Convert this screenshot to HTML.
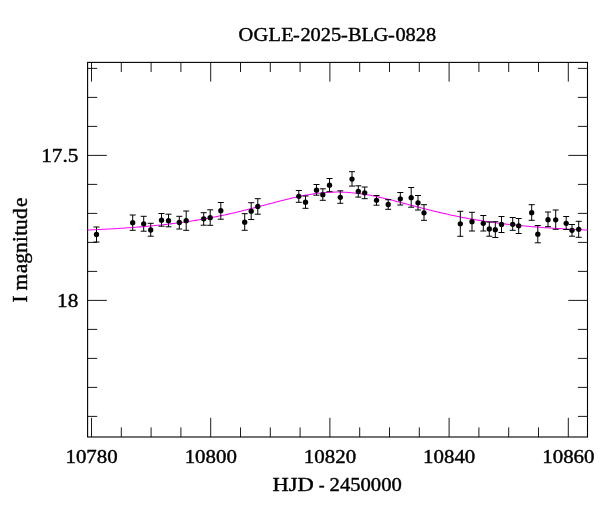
<!DOCTYPE html>
<html><head><meta charset="utf-8"><title>OGLE-2025-BLG-0828</title>
<style>html,body{margin:0;padding:0;background:#fff}svg{display:block}</style></head>
<body>
<svg width="600" height="512" viewBox="0 0 600 512">
<rect width="600" height="512" fill="#fff"/>
<path d="M91.50,437.0 v-19.2 M91.50,62.4 v19.2 M121.30,437.0 v-9.6 M121.30,62.4 v9.6 M151.10,437.0 v-9.6 M151.10,62.4 v9.6 M180.90,437.0 v-9.6 M180.90,62.4 v9.6 M210.70,437.0 v-19.2 M210.70,62.4 v19.2 M240.50,437.0 v-9.6 M240.50,62.4 v9.6 M270.30,437.0 v-9.6 M270.30,62.4 v9.6 M300.10,437.0 v-9.6 M300.10,62.4 v9.6 M329.90,437.0 v-19.2 M329.90,62.4 v19.2 M359.70,437.0 v-9.6 M359.70,62.4 v9.6 M389.50,437.0 v-9.6 M389.50,62.4 v9.6 M419.30,437.0 v-9.6 M419.30,62.4 v9.6 M449.10,437.0 v-19.2 M449.10,62.4 v19.2 M478.90,437.0 v-9.6 M478.90,62.4 v9.6 M508.70,437.0 v-9.6 M508.70,62.4 v9.6 M538.50,437.0 v-9.6 M538.50,62.4 v9.6 M568.30,437.0 v-19.2 M568.30,62.4 v19.2 M87.6,68.40 h9.6 M587.5,68.40 h-9.6 M87.6,97.40 h9.6 M587.5,97.40 h-9.6 M87.6,126.40 h9.6 M587.5,126.40 h-9.6 M87.6,155.40 h19.2 M587.5,155.40 h-19.2 M87.6,184.40 h9.6 M587.5,184.40 h-9.6 M87.6,213.40 h9.6 M587.5,213.40 h-9.6 M87.6,242.40 h9.6 M587.5,242.40 h-9.6 M87.6,271.40 h9.6 M587.5,271.40 h-9.6 M87.6,300.40 h19.2 M587.5,300.40 h-19.2 M87.6,329.40 h9.6 M587.5,329.40 h-9.6 M87.6,358.40 h9.6 M587.5,358.40 h-9.6 M87.6,387.40 h9.6 M587.5,387.40 h-9.6 M87.6,416.40 h9.6 M587.5,416.40 h-9.6" stroke="#000" stroke-width="0.9" fill="none"/>
<rect x="87.6" y="62.4" width="499.9" height="374.6" fill="none" stroke="#000" stroke-width="1.1"/>
<path d="M87.6,230.03 L90.1,229.92 L92.6,229.81 L95.1,229.70 L97.6,229.58 L100.2,229.46 L102.7,229.33 L105.2,229.21 L107.7,229.07 L110.2,228.94 L112.7,228.79 L115.2,228.65 L117.7,228.50 L120.3,228.34 L122.8,228.18 L125.3,228.01 L127.8,227.84 L130.3,227.66 L132.8,227.48 L135.3,227.29 L137.8,227.09 L140.4,226.89 L142.9,226.68 L145.4,226.46 L147.9,226.24 L150.4,226.01 L152.9,225.77 L155.4,225.53 L157.9,225.28 L160.4,225.02 L163.0,224.75 L165.5,224.47 L168.0,224.18 L170.5,223.89 L173.0,223.58 L175.5,223.27 L178.0,222.94 L180.5,222.61 L183.1,222.26 L185.6,221.91 L188.1,221.54 L190.6,221.16 L193.1,220.78 L195.6,220.38 L198.1,219.97 L200.6,219.55 L203.2,219.11 L205.7,218.67 L208.2,218.21 L210.7,217.74 L213.2,217.26 L215.7,216.77 L218.2,216.26 L220.7,215.75 L223.3,215.22 L225.8,214.68 L228.3,214.13 L230.8,213.56 L233.3,212.99 L235.8,212.40 L238.3,211.81 L240.8,211.20 L243.3,210.58 L245.9,209.96 L248.4,209.33 L250.9,208.68 L253.4,208.04 L255.9,207.38 L258.4,206.72 L260.9,206.06 L263.4,205.40 L266.0,204.73 L268.5,204.06 L271.0,203.40 L273.5,202.73 L276.0,202.07 L278.5,201.42 L281.0,200.77 L283.5,200.14 L286.1,199.51 L288.6,198.89 L291.1,198.29 L293.6,197.71 L296.1,197.15 L298.6,196.60 L301.1,196.08 L303.6,195.58 L306.1,195.11 L308.7,194.67 L311.2,194.26 L313.7,193.88 L316.2,193.53 L318.7,193.21 L321.2,192.94 L323.7,192.69 L326.2,192.49 L328.8,192.33 L331.3,192.21 L333.8,192.12 L336.3,192.08 L338.8,192.08 L341.3,192.12 L343.8,192.20 L346.3,192.32 L348.9,192.48 L351.4,192.69 L353.9,192.93 L356.4,193.20 L358.9,193.51 L361.4,193.86 L363.9,194.24 L366.4,194.65 L369.0,195.10 L371.5,195.57 L374.0,196.06 L376.5,196.58 L379.0,197.13 L381.5,197.69 L384.0,198.27 L386.5,198.87 L389.0,199.48 L391.6,200.11 L394.1,200.75 L396.6,201.39 L399.1,202.05 L401.6,202.71 L404.1,203.37 L406.6,204.04 L409.1,204.70 L411.7,205.37 L414.2,206.04 L416.7,206.70 L419.2,207.36 L421.7,208.01 L424.2,208.66 L426.7,209.30 L429.2,209.93 L431.8,210.56 L434.3,211.17 L436.8,211.78 L439.3,212.38 L441.8,212.96 L444.3,213.54 L446.8,214.10 L449.3,214.66 L451.8,215.20 L454.4,215.73 L456.9,216.24 L459.4,216.75 L461.9,217.24 L464.4,217.72 L466.9,218.19 L469.4,218.65 L471.9,219.10 L474.5,219.53 L477.0,219.95 L479.5,220.36 L482.0,220.76 L484.5,221.15 L487.0,221.53 L489.5,221.89 L492.0,222.25 L494.6,222.59 L497.1,222.93 L499.6,223.25 L502.1,223.57 L504.6,223.87 L507.1,224.17 L509.6,224.46 L512.1,224.74 L514.7,225.00 L517.2,225.27 L519.7,225.52 L522.2,225.77 L524.7,226.00 L527.2,226.23 L529.7,226.46 L532.2,226.67 L534.7,226.88 L537.3,227.08 L539.8,227.28 L542.3,227.47 L544.8,227.65 L547.3,227.83 L549.8,228.00 L552.3,228.17 L554.8,228.33 L557.4,228.49 L559.9,228.64 L562.4,228.79 L564.9,228.93 L567.4,229.07 L569.9,229.20 L572.4,229.33 L574.9,229.45 L577.5,229.58 L580.0,229.69 L582.5,229.81 L585.0,229.92 L587.5,230.02" stroke="#ff00ff" stroke-width="1.05" fill="none"/>
<path d="M96.5,227.0 V242.0 M93.5,227.0 h6.0 M93.5,242.0 h6.0 M132.7,215.0 V230.3 M129.7,215.0 h6.0 M129.7,230.3 h6.0 M143.7,216.3 V231.2 M140.7,216.3 h6.0 M140.7,231.2 h6.0 M150.7,223.3 V236.2 M147.7,223.3 h6.0 M147.7,236.2 h6.0 M161.5,213.5 V226.2 M158.5,213.5 h6.0 M158.5,226.2 h6.0 M168.5,214.2 V226.8 M165.5,214.2 h6.0 M165.5,226.8 h6.0 M179.3,216.3 V229.0 M176.3,216.3 h6.0 M176.3,229.0 h6.0 M186.2,211.0 V230.3 M183.2,211.0 h6.0 M183.2,230.3 h6.0 M203.7,212.7 V225.2 M200.7,212.7 h6.0 M200.7,225.2 h6.0 M210.2,209.8 V225.3 M207.2,209.8 h6.0 M207.2,225.3 h6.0 M220.8,202.5 V219.2 M217.8,202.5 h6.0 M217.8,219.2 h6.0 M244.7,213.7 V230.3 M241.7,213.7 h6.0 M241.7,230.3 h6.0 M251.2,202.7 V219.5 M248.2,202.7 h6.0 M248.2,219.5 h6.0 M257.8,198.7 V214.2 M254.8,198.7 h6.0 M254.8,214.2 h6.0 M298.8,190.5 V202.3 M295.8,190.5 h6.0 M295.8,202.3 h6.0 M305.5,196.0 V208.3 M302.5,196.0 h6.0 M302.5,208.3 h6.0 M316.5,184.5 V195.2 M313.5,184.5 h6.0 M313.5,195.2 h6.0 M322.8,188.8 V200.3 M319.8,188.8 h6.0 M319.8,200.3 h6.0 M329.5,178.5 V191.7 M326.5,178.5 h6.0 M326.5,191.7 h6.0 M340.3,190.8 V203.3 M337.3,190.8 h6.0 M337.3,203.3 h6.0 M352.0,171.7 V186.1 M349.0,171.7 h6.0 M349.0,186.1 h6.0 M358.3,185.8 V197.1 M355.3,185.8 h6.0 M355.3,197.1 h6.0 M364.7,187.0 V198.7 M361.7,187.0 h6.0 M361.7,198.7 h6.0 M376.5,195.5 V205.2 M373.5,195.5 h6.0 M373.5,205.2 h6.0 M388.2,199.7 V209.3 M385.2,199.7 h6.0 M385.2,209.3 h6.0 M400.3,192.5 V205.0 M397.3,192.5 h6.0 M397.3,205.0 h6.0 M411.2,187.5 V207.2 M408.2,187.5 h6.0 M408.2,207.2 h6.0 M418.0,195.5 V210.0 M415.0,195.5 h6.0 M415.0,210.0 h6.0 M424.0,204.7 V220.3 M421.0,204.7 h6.0 M421.0,220.3 h6.0 M460.3,211.3 V236.3 M457.3,211.3 h6.0 M457.3,236.3 h6.0 M472.0,212.3 V231.0 M469.0,212.3 h6.0 M469.0,231.0 h6.0 M483.3,215.5 V231.0 M480.3,215.5 h6.0 M480.3,231.0 h6.0 M489.3,222.0 V236.2 M486.3,222.0 h6.0 M486.3,236.2 h6.0 M495.3,221.7 V237.5 M492.3,221.7 h6.0 M492.3,237.5 h6.0 M501.5,216.5 V232.5 M498.5,216.5 h6.0 M498.5,232.5 h6.0 M512.7,217.5 V230.3 M509.7,217.5 h6.0 M509.7,230.3 h6.0 M518.7,218.5 V233.5 M515.7,218.5 h6.0 M515.7,233.5 h6.0 M531.7,204.7 V220.3 M528.7,204.7 h6.0 M528.7,220.3 h6.0 M537.8,225.5 V242.8 M534.8,225.5 h6.0 M534.8,242.8 h6.0 M548.0,212.0 V226.7 M545.0,212.0 h6.0 M545.0,226.7 h6.0 M555.7,210.0 V229.3 M552.7,210.0 h6.0 M552.7,229.3 h6.0 M566.2,216.5 V229.5 M563.2,216.5 h6.0 M563.2,229.5 h6.0 M572.0,224.5 V236.2 M569.0,224.5 h6.0 M569.0,236.2 h6.0 M578.7,221.3 V237.3 M575.7,221.3 h6.0 M575.7,237.3 h6.0" stroke="#000" stroke-width="1.0" fill="none"/>
<circle cx="96.5" cy="234.5" r="2.65" fill="#000"/>
<circle cx="132.7" cy="222.7" r="2.65" fill="#000"/>
<circle cx="143.7" cy="223.8" r="2.65" fill="#000"/>
<circle cx="150.7" cy="230.0" r="2.65" fill="#000"/>
<circle cx="161.5" cy="220.2" r="2.65" fill="#000"/>
<circle cx="168.5" cy="220.7" r="2.65" fill="#000"/>
<circle cx="179.3" cy="222.5" r="2.65" fill="#000"/>
<circle cx="186.2" cy="220.7" r="2.65" fill="#000"/>
<circle cx="203.7" cy="218.8" r="2.65" fill="#000"/>
<circle cx="210.2" cy="217.7" r="2.65" fill="#000"/>
<circle cx="220.8" cy="210.7" r="2.65" fill="#000"/>
<circle cx="244.7" cy="222.2" r="2.65" fill="#000"/>
<circle cx="251.2" cy="211.2" r="2.65" fill="#000"/>
<circle cx="257.8" cy="206.5" r="2.65" fill="#000"/>
<circle cx="298.8" cy="196.3" r="2.65" fill="#000"/>
<circle cx="305.5" cy="202.2" r="2.65" fill="#000"/>
<circle cx="316.5" cy="190.2" r="2.65" fill="#000"/>
<circle cx="322.8" cy="194.7" r="2.65" fill="#000"/>
<circle cx="329.5" cy="185.2" r="2.65" fill="#000"/>
<circle cx="340.3" cy="197.3" r="2.65" fill="#000"/>
<circle cx="352.0" cy="179.1" r="2.65" fill="#000"/>
<circle cx="358.3" cy="191.4" r="2.65" fill="#000"/>
<circle cx="364.7" cy="192.8" r="2.65" fill="#000"/>
<circle cx="376.5" cy="200.3" r="2.65" fill="#000"/>
<circle cx="388.2" cy="204.5" r="2.65" fill="#000"/>
<circle cx="400.3" cy="198.8" r="2.65" fill="#000"/>
<circle cx="411.2" cy="197.7" r="2.65" fill="#000"/>
<circle cx="418.0" cy="202.8" r="2.65" fill="#000"/>
<circle cx="424.0" cy="212.8" r="2.65" fill="#000"/>
<circle cx="460.3" cy="223.8" r="2.65" fill="#000"/>
<circle cx="472.0" cy="221.7" r="2.65" fill="#000"/>
<circle cx="483.3" cy="223.3" r="2.65" fill="#000"/>
<circle cx="489.3" cy="229.0" r="2.65" fill="#000"/>
<circle cx="495.3" cy="229.7" r="2.65" fill="#000"/>
<circle cx="501.5" cy="224.5" r="2.65" fill="#000"/>
<circle cx="512.7" cy="224.3" r="2.65" fill="#000"/>
<circle cx="518.7" cy="225.8" r="2.65" fill="#000"/>
<circle cx="531.7" cy="212.7" r="2.65" fill="#000"/>
<circle cx="537.8" cy="234.2" r="2.65" fill="#000"/>
<circle cx="548.0" cy="219.7" r="2.65" fill="#000"/>
<circle cx="555.7" cy="219.8" r="2.65" fill="#000"/>
<circle cx="566.2" cy="223.3" r="2.65" fill="#000"/>
<circle cx="572.0" cy="230.3" r="2.65" fill="#000"/>
<circle cx="578.7" cy="229.3" r="2.65" fill="#000"/>
<g font-family='"Liberation Serif", serif' fill="#000" stroke="#000" stroke-width="0.4" stroke-linejoin="round" style="font-kerning:none">
<text transform="translate(0,40.9) scale(1.085,1)" font-size="18.8" x="219.81 233.67 247.50 259.22 270.13 276.94 286.29 295.64 305.00 314.28 320.74 333.08 344.35 357.69 364.43 373.80 383.16 392.53">OGLE-2025-BLG-0828</text>
<text y="462.7"><tspan x="65.46" font-size="18.65" textLength="52.23" lengthAdjust="spacingAndGlyphs">10780</tspan></text>
<text y="462.7"><tspan x="184.66" font-size="18.65" textLength="52.23" lengthAdjust="spacingAndGlyphs">10800</tspan></text>
<text y="462.7"><tspan x="303.86" font-size="18.65" textLength="52.23" lengthAdjust="spacingAndGlyphs">10820</tspan></text>
<text y="462.7"><tspan x="423.06" font-size="18.65" textLength="52.23" lengthAdjust="spacingAndGlyphs">10840</tspan></text>
<text y="462.7"><tspan x="542.26" font-size="18.65" textLength="52.23" lengthAdjust="spacingAndGlyphs">10860</tspan></text>
<text y="162.4"><tspan x="41.24" font-size="18.65" textLength="37.09" lengthAdjust="spacingAndGlyphs">17.5</tspan></text>
<text y="307.4"><tspan x="57.03" font-size="18.65" textLength="21.28" lengthAdjust="spacingAndGlyphs">18</tspan></text>
<text y="491.4"><tspan x="272.45" font-size="18.9" textLength="41.25" lengthAdjust="spacingAndGlyphs">HJD</tspan><tspan x="314" font-size="18.9"> </tspan><tspan x="318.74" font-size="18.9" textLength="5.90" lengthAdjust="spacingAndGlyphs">-</tspan><tspan x="325" font-size="18.9"> </tspan><tspan x="329.59" font-size="18.65" textLength="72.19" lengthAdjust="spacingAndGlyphs">2450000</tspan></text>
<text transform="translate(27.0,0) rotate(-90) translate(0,0) scale(1.07,1)" font-size="20.0" x="-282.73 -281.73 -271.48 -255.31 -246.41 -236.34 -226.21 -220.38 -215.06 -204.80 -193.42">I magnitude</text>
</g>
</svg>
</body></html>
